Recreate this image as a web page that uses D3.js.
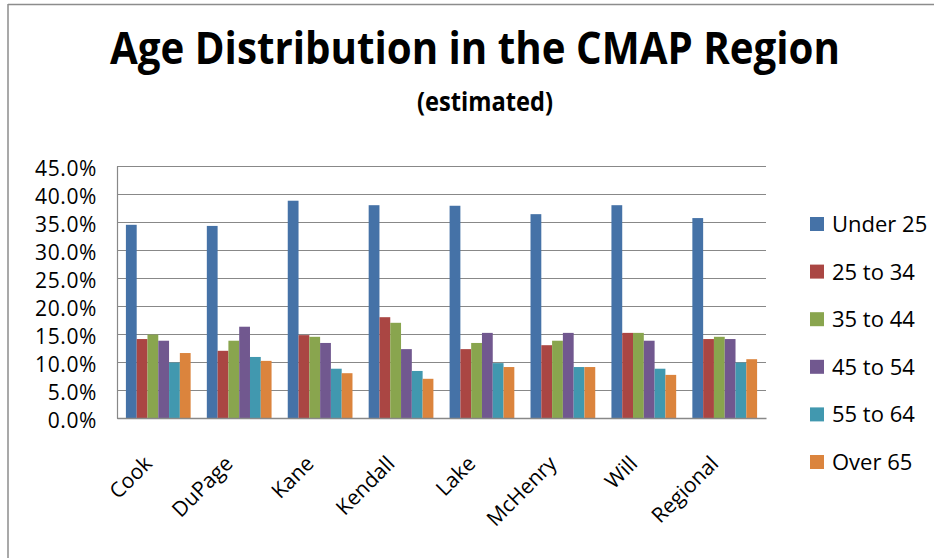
<!DOCTYPE html>
<html>
<head>
<meta charset="utf-8">
<script src="https://cdn.jsdelivr.net/npm/d3@7"></script>
<style>
  body { margin: 0; background: #fff; }
  text { font-family: "Open Sans", sans-serif; fill: #000; }
</style>
</head>
<body>
<script>
// chart values (percent of population)
var counties = ["Cook", "DuPage", "Kane", "Kendall", "Lake", "McHenry", "Will", "Regional"];
var ageGroups = ["Under 25", "25 to 34", "35 to 44", "45 to 54", "55 to 64", "Over 65"];

var under25   = [34.5, 34.3, 38.8, 38.0, 37.9, 36.4, 38.0, 35.7];
var age25to34 = [14.1, 12.0, 14.8, 18.0, 12.3, 13.0, 15.2, 14.1];
var age35to44 = [14.9, 13.8, 14.5, 17.0, 13.4, 13.8, 15.2, 14.5];
var age45to54 = [13.8, 16.3, 13.4, 12.3, 15.2, 15.2, 13.8, 14.1];
var age55to64 = [9.9, 10.9, 8.8, 8.4, 9.8, 9.1, 8.8, 9.9];
var over65    = [11.6, 10.2, 8.0, 7.0, 9.1, 9.1, 7.7, 10.5];

var yTicks = [0, 5, 10, 15, 20, 25, 30, 35, 40, 45];
var colors = ["#4572A7", "#AA4643", "#89A54E", "#71588F", "#4198AF", "#DB843D"];

var seriesValues = [under25, age25to34, age35to44, age45to54, age55to64, over65];

// rows for drawing: one per county, one value per age group
var rows = counties.map(function(c, i) {
  return {
    county: c,
    values: ageGroups.map(function(g, j) {
      return {group: g, value: seriesValues[j][i]};
    })
  };
});

var W = 934, H = 558;
var plot = {left: 117, top: 166, right: 766, bottom: 418};

var svg = d3.select("body")
  .append("svg")
  .attr("width", W)
  .attr("height", H);

svg.append("rect")
  .attr("width", W)
  .attr("height", H)
  .attr("fill", "#fff");

// outer chart border (only top and left are in the frame)
svg.append("line")
  .attr("x1", 8).attr("x2", W)
  .attr("y1", 4.5).attr("y2", 4.5)
  .attr("stroke", "#8c8c8c").attr("stroke-width", 1.5);
svg.append("line")
  .attr("x1", 8).attr("x2", 8)
  .attr("y1", 4).attr("y2", H)
  .attr("stroke", "#8c8c8c").attr("stroke-width", 1.5);

// titles
svg.append("text")
  .attr("x", 475)
  .attr("y", 64)
  .attr("text-anchor", "middle")
  .attr("font-size", 45)
  .attr("font-weight", "bold")
  .attr("textLength", 730)
  .attr("lengthAdjust", "spacingAndGlyphs")
  .text("Age Distribution in the CMAP Region");

svg.append("text")
  .attr("x", 485)
  .attr("y", 111)
  .attr("text-anchor", "middle")
  .attr("font-size", 27)
  .attr("font-weight", "bold")
  .attr("textLength", 136)
  .attr("lengthAdjust", "spacingAndGlyphs")
  .text("(estimated)");

var y = d3.scaleLinear()
  .domain([0, 45])
  .range([plot.bottom, plot.top]);

var x0 = d3.scaleBand()
  .domain(counties)
  .range([plot.left, plot.right])
  .paddingInner(0.2)
  .paddingOuter(0.11);

var x1 = d3.scaleBand()
  .domain(ageGroups)
  .range([0, x0.bandwidth()]);

var color = d3.scaleOrdinal()
  .domain(ageGroups)
  .range(colors);

// gridlines
var grid = svg.append("g")
  .attr("transform", "translate(" + plot.left + ",0)")
  .call(d3.axisLeft(y)
    .tickValues(yTicks)
    .tickSize(-(plot.right - plot.left))
    .tickFormat(""));
grid.select(".domain").remove();
grid.selectAll("line").attr("stroke", "#888").attr("stroke-width", 1.2);

// y axis labels
var yAxis = svg.append("g")
  .attr("transform", "translate(" + plot.left + ",0)")
  .call(d3.axisLeft(y)
    .tickValues(yTicks)
    .tickSize(0)
    .tickPadding(20)
    .tickFormat(function(d) { return d.toFixed(1) + "%"; }));
yAxis.select(".domain").attr("stroke", "#888").attr("stroke-width", 1.2);
yAxis.selectAll("text")
  .attr("font-size", 21)
  .attr("font-family", "Open Sans, sans-serif")
  .attr("letter-spacing", 0.6)
  .attr("dy", "0.47em");

// bars
var groups = svg.append("g")
  .selectAll("g")
  .data(rows)
  .join("g")
  .attr("transform", function(d) { return "translate(" + x0(d.county) + ",0)"; });

groups.selectAll("rect")
  .data(function(d) { return d.values; })
  .join("rect")
  .attr("x", function(d) { return x1(d.group); })
  .attr("width", x1.bandwidth())
  .attr("y", function(d) { return y(d.value); })
  .attr("height", function(d) { return y(0) - y(d.value); })
  .attr("fill", function(d) { return color(d.group); });

// x axis
var xAxis = svg.append("g")
  .attr("transform", "translate(0," + plot.bottom + ")")
  .call(d3.axisBottom(x0).tickSize(0).tickPadding(0));
xAxis.select(".domain").attr("stroke", "#888").attr("stroke-width", 1.5);
xAxis.selectAll("text")
  .attr("font-size", 21)
  .attr("font-family", "Open Sans, sans-serif")
  .attr("text-anchor", "end")
  .attr("dy", 0)
  .attr("y", 0)
  .attr("transform", "translate(-5,47) rotate(-45)");

// legend
var legend = svg.append("g")
  .selectAll("g")
  .data(ageGroups)
  .join("g")
  .attr("transform", function(d, i) { return "translate(810," + (224 + i * 47.6) + ")"; });

legend.append("rect")
  .attr("x", 0)
  .attr("y", -7)
  .attr("width", 14)
  .attr("height", 14)
  .attr("fill", function(d) { return color(d); });

legend.append("text")
  .attr("x", 22)
  .attr("y", 8)
  .attr("font-size", 22)
  .text(function(d) { return d; });
</script>
</body>
</html>
